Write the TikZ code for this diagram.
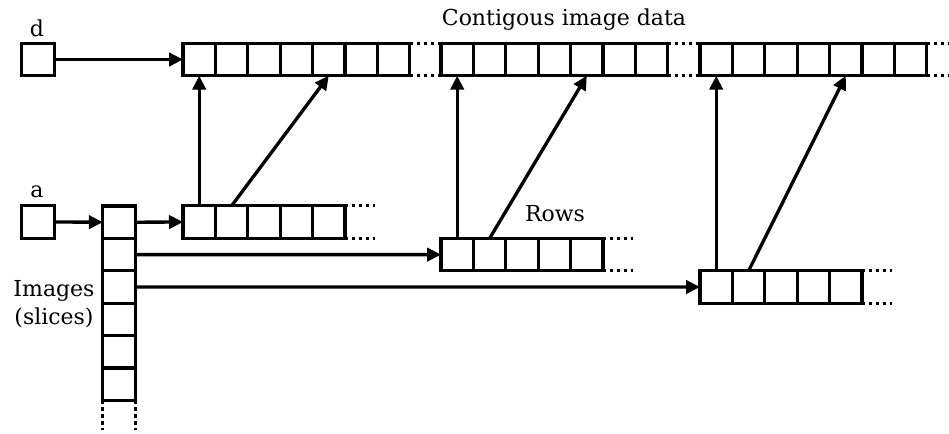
\documentclass[tikz,border=0pt]{standalone}
\usepackage{fontspec}
\setmainfont{DejaVu Serif}
\usetikzlibrary{arrows.meta}
\begin{document}
\begin{tikzpicture}[x=0.75pt,y=-0.75pt,
 cell/.style={draw, line width=2.5pt, minimum size=24.3pt, inner sep=0pt, outer sep=0pt},
 conn/.style={line width=2.5pt, -{Triangle[length=10.5pt,width=10pt]}},
 dots/.style={line width=2.5pt, dash pattern=on 2.6pt off 2.6pt},
 lbl/.style={font=\fontsize{16.5}{21}\selectfont, inner sep=0pt}]
\useasboundingbox (0,0) rectangle (949,433);
% top contiguous data
\foreach \g/\sx in {1/183,2/441,3/700}{
  \foreach \i in {1,...,7}{
    \node[cell] (t\g-\i) at ({\sx+(\i-0.5)*32.4},59.5) {};
  }
}
% rows
\foreach \g/\sx/\yy in {1/183/222,2/441/254.6,3/700/287}{
  \foreach \i in {1,...,5}{
    \node[cell] (r\g-\i) at ({\sx+(\i-0.5)*32.4},\yy) {};
  }
}
% slices
\foreach \j in {1,...,6}{
  \node[cell] (s\j) at (119,{206+(\j-0.5)*32.4}) {};
}
\node[cell] (d) at (38,59.5) {};
\node[cell] (a) at (38,222) {};
% labels
\node[lbl] (dl) at (37,28) {d};
\node[lbl] (al) at (37,192) {a};
\node[lbl] (cl) at (564,20) {Contigous image data};
\node[lbl] (rl) at (555,214) {Rows};
\node[lbl, align=center] (il) at (54,304) {Images\\(slices)};
% connectors
\draw[conn] (d.east) -- (t1-1.west);
\draw[conn] (a.east) -- (s1.west);
\draw[conn] (s1.east) -- (r1-1.west);
\draw[conn] (s2.east) -- (r2-1.west);
\draw[conn] (s3.east) -- (r3-1.west);
\foreach \g in {1,2,3}{
  \draw[conn] (r\g-1.north) -- (t\g-1.south);
  \draw[conn] (r\g-2.north) -- (t\g-5.south);
  \draw[dots] (r\g-5.north east) -- ++(30,0);
  \draw[dots] (r\g-5.south east) -- ++(30,0);
}
% dotted continuations
\draw[dots] (t1-7.north east) -- (t2-1.north west);
\draw[dots] (t1-7.south east) -- (t2-1.south west);
\draw[dots] (t2-7.north east) -- (t3-1.north west);
\draw[dots] (t2-7.south east) -- (t3-1.south west);
\draw[dots] (t3-7.north east) -- ++(24,0);
\draw[dots] (t3-7.south east) -- ++(24,0);
\draw[dots] (s6.south west) -- ++(0,30);
\draw[dots] (s6.south east) -- ++(0,30);
\end{tikzpicture}
\end{document}
